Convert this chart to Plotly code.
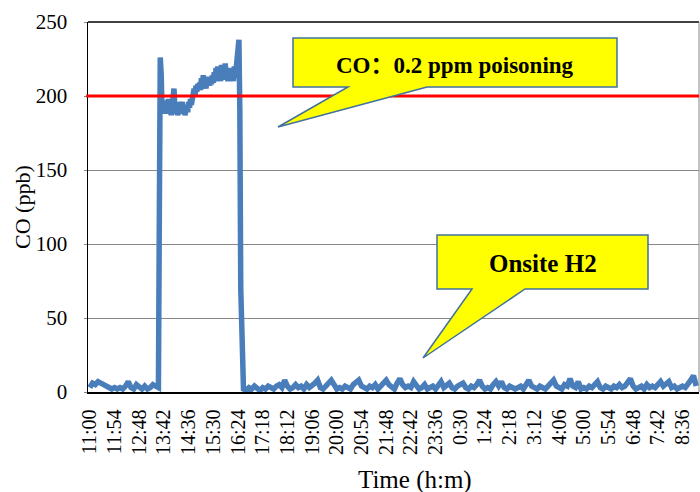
import plotly.graph_objects as go

# ---- data (minutes after 11:00, CO in ppb) ----
tick_labels = ["11:00", "11:54", "12:48", "13:42", "14:36", "15:30", "16:24", "17:18",
               "18:12", "19:06", "20:00", "20:54", "21:48", "22:42", "23:36", "0:30",
               "1:24", "2:18", "3:12", "4:06", "5:00", "5:54", "6:48", "7:42", "8:36"]
tick_step_min = 54

# before poisoning: samples every 6 min from 0 to 150
base1_times = list(range(0, 151, 6))
base1_values = [3, 6, 5, 7, 6, 5, 4, 3, 2, 3, 2, 3, 2, 4, 7, 3, 2, 5, 3, 2, 4, 2, 3, 5, 4, 3]

# poisoning episode: samples every 2 min from 152 to 330
spike_times = list(range(152, 331, 2))
spike_values = [120, 226, 215, 190, 196, 188, 197, 189, 194, 188,
                198, 190, 192, 187, 196, 203, 205, 192, 188, 195,
                187, 191, 196, 189, 193, 196, 188, 192, 187, 190,
                194, 189, 196, 192, 198, 194, 201, 198, 205, 200,
                207, 203, 208, 205, 209, 204, 212, 207, 214, 206,
                210, 205, 212, 208, 213, 207, 211, 208, 214, 209,
                216, 210, 219, 212, 220, 214, 218, 210, 221, 213,
                219, 211, 222, 214, 218, 210, 216, 211, 219, 213,
                217, 210, 220, 212, 218, 224, 232, 238, 190, 70]

# onsite H2: samples every 6 min from 336 to 1326
base2_times = list(range(336, 1327, 6))
base2_values = [2, 1, 3, 2, 4, 2, 1, 3, 2, 4,
                3, 2, 4, 5, 3, 8, 4, 2, 3, 5,
                3, 4, 2, 5, 3, 4, 6, 8, 3, 2,
                4, 6, 8, 5, 2, 3, 2, 4, 3, 2,
                5, 6, 8, 4, 3, 2, 4, 3, 5, 2,
                4, 6, 8, 5, 3, 2, 6, 9, 5, 3,
                4, 3, 7, 4, 2, 3, 5, 2, 3, 4,
                2, 5, 7, 3, 4, 6, 3, 2, 4, 5,
                6, 3, 2, 4, 3, 5, 8, 4, 2, 3,
                2, 5, 7, 4, 7, 3, 2, 4, 3, 2,
                3, 4, 2, 5, 8, 4, 3, 2, 4, 3,
                2, 4, 6, 8, 4, 3, 2, 5, 4, 9,
                4, 3, 7, 2, 3, 2, 4, 3, 5, 7,
                3, 2, 4, 3, 2, 4, 3, 5, 3, 4,
                6, 9, 4, 2, 3, 4, 2, 5, 3, 4,
                3, 5, 7, 4, 6, 7, 3, 4, 2, 3,
                4, 3, 5, 8, 11, 4]

threshold_ppb = 200

times = base1_times + spike_times + base2_times
values = base1_values + spike_values + base2_values

# ---- layout geometry ----
W, H = 700, 492
ML, MR, MT, MB = 88, 1, 22, 100
PW, PH = W - ML - MR, H - MT - MB


def px(x, y):
    return (x - ML) / PW, (H - MB - y) / PH


def path(points):
    s = ""
    for i, (x, y) in enumerate(points):
        u, v = px(x, y)
        s += ("M" if i == 0 else "L") + f"{u:.5f},{v:.5f} "
    return s + "Z"


serif = "Liberation Serif, Times New Roman, serif"

fig = go.Figure()
fig.add_trace(go.Scatter(
    x=times, y=values, mode="lines",
    line=dict(color="#4A7EBB", width=5.5, shape="linear"),
    hoverinfo="skip", showlegend=False, cliponaxis=False))

fig.update_layout(
    width=W, height=H,
    margin=dict(l=ML, r=MR, t=MT, b=MB, autoexpand=False),
    paper_bgcolor="white", plot_bgcolor="white",
    font=dict(family=serif, color="black"),
    xaxis=dict(
        range=[-4, 1332], automargin=False,
        tickvals=[i * tick_step_min for i in range(len(tick_labels))],
        ticktext=tick_labels, tickangle=-90,
        tickfont=dict(size=20, family=serif),
        showgrid=False, zeroline=False,
        showline=True, linecolor="black", linewidth=1.5,
        ticks="", ticklabelstandoff=8,
    ),
    yaxis=dict(
        range=[0, 250], dtick=50, automargin=False,
        tickfont=dict(size=21, family=serif),
        showgrid=True, gridcolor="#878787", gridwidth=1,
        zeroline=False,
        showline=True, linecolor="black", linewidth=1.5,
        ticks="outside", ticklen=3, tickcolor="#878787",
        ticklabelstandoff=12,
    ),
)

shapes = []
# top border and right border
shapes.append(dict(type="line", xref="paper", yref="paper", x0=0, x1=1, y0=1, y1=1,
                   line=dict(color="black", width=1.5)))
shapes.append(dict(type="line", xref="paper", yref="paper", x0=1, x1=1, y0=0, y1=1,
                   line=dict(color="#878787", width=1)))
# threshold line
shapes.append(dict(type="line", xref="paper", yref="y", x0=-0.003, x1=1,
                   y0=threshold_ppb, y1=threshold_ppb,
                   line=dict(color="#FF0000", width=3)))
# callouts
shapes.append(dict(type="path", xref="paper", yref="paper",
                   path=path([(293, 38), (617, 38), (617, 87), (427, 87), (278, 127), (348, 87), (293, 87)]),
                   fillcolor="#FFFF00", line=dict(color="#41719C", width=1.5)))
shapes.append(dict(type="path", xref="paper", yref="paper",
                   path=path([(437, 235), (648, 235), (648, 289), (525, 289), (423, 358), (472, 289), (437, 289)]),
                   fillcolor="#FFFF00", line=dict(color="#41719C", width=1.5)))
fig.update_layout(shapes=shapes)


def note(x, y, text, size, angle=0, family=serif):
    u, v = px(x, y)
    return dict(x=u, y=v, xref="paper", yref="paper", showarrow=False,
                xanchor="center", yanchor="middle", textangle=angle,
                text=text, font=dict(size=size, family=family, color="black"))


fig.update_layout(annotations=[
    note(455, 65, "<b>CO：0.2 ppm poisoning</b>", 23, family="Liberation Serif, Noto Sans CJK SC"),
    note(543, 263, "<b>Onsite H2</b>", 25),
    note(22, 207, "CO (ppb)", 22, angle=-90),
    note(415, 480, "Time (h:m)", 25),
])

fig.write_html("out.html",
               config={"displayModeBar": False, "staticPlot": True},
               post_script="document.body.style.margin='0';document.body.style.overflow='hidden';")
